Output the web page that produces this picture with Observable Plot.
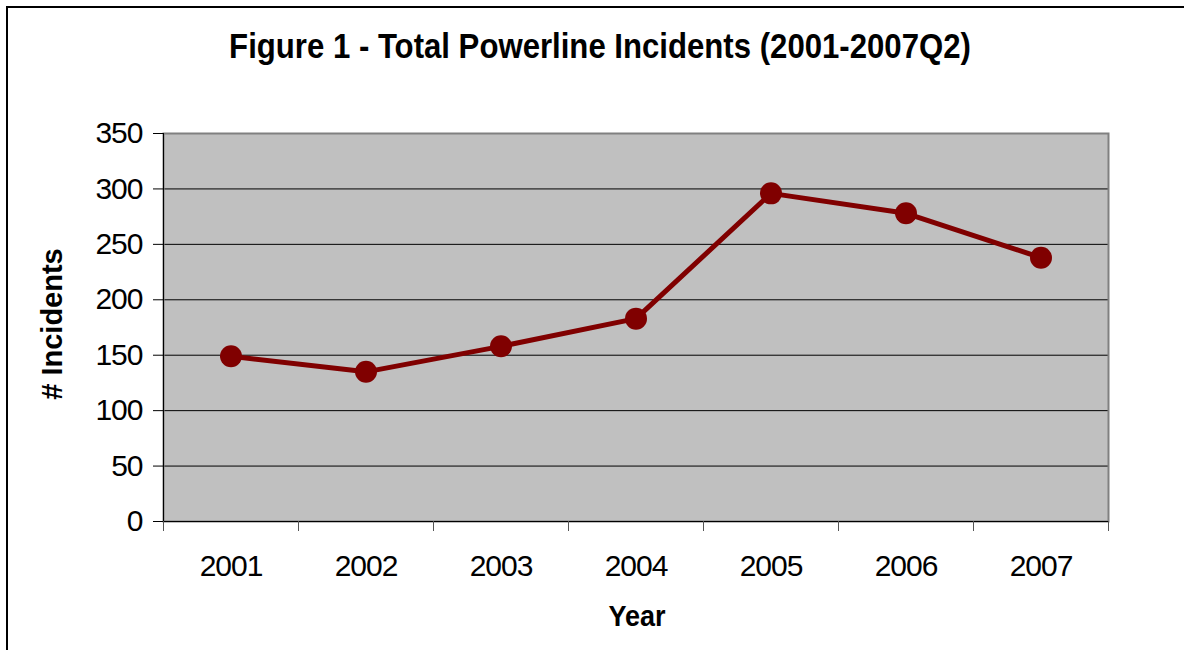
<!DOCTYPE html>
<html><head><meta charset="utf-8">
<script src="https://cdn.jsdelivr.net/npm/d3@7"></script>
<script src="https://cdn.jsdelivr.net/npm/@observablehq/plot@0.6"></script>
<style>
html,body{margin:0;padding:0;background:#fff;overflow:hidden;width:1184px;height:650px;}
#wrap{position:relative;width:1184px;height:650px;overflow:hidden;font-family:"Liberation Sans",Arial,sans-serif;}
#border{position:absolute;left:6px;top:6px;width:2000px;height:2000px;border-top:2px solid #000;border-left:2px solid #000;}
.lbl{position:absolute;font-weight:bold;line-height:1;white-space:nowrap;color:#000;}
#chart{position:absolute;left:0;top:0;}
#title{font-size:35px;left:600px;top:28px;}
#ylab{font-size:29px;left:52px;top:324px;transform:translate(-50%,-50%) rotate(-90deg);}
#xlab{font-size:30px;left:637px;top:601px;transform:translateX(-50%) scaleX(0.9);}
</style></head><body>
<div id="wrap">
<div id="border"></div>
<div id="chart"></div>
<div id="title" class="lbl"></div>
<div id="ylab" class="lbl"></div>
<div id="xlab" class="lbl"></div>
</div>
<script>
const titleText = "Figure 1 - Total Powerline Incidents (2001-2007Q2)";
const xLabel = "Year";
const yLabel = "# Incidents";
const years = [2001, 2002, 2003, 2004, 2005, 2006, 2007];
const incidents = [149, 135, 158, 183, 296, 278, 238];
const yTicks = [0, 50, 100, 150, 200, 250, 300, 350];

const data = years.map((year, i) => ({year, value: incidents[i]}));
const xDomain = [years[0] - 0.5, years[years.length - 1] + 0.5];
const boundaries = [...years.map(y => y - 0.5), years[years.length - 1] + 0.5];
const gridVals = yTicks.slice(1, -1);

const plot = Plot.plot({
  width: 1184, height: 650,
  marginLeft: 163, marginRight: 76, marginTop: 133, marginBottom: 129,
  style: {fontFamily: "Liberation Sans, Arial, sans-serif", fontSize: "30px", background: "transparent", color: "#000", letterSpacing: "-1px", overflow: "visible"},
  x: {domain: xDomain, axis: null},
  y: {domain: [yTicks[0], yTicks[yTicks.length - 1]], axis: null},
  marks: [
    Plot.frame({fill: "#c0c0c0", stroke: null}),
    Plot.gridY({ticks: gridVals, stroke: "#000", strokeOpacity: 1}),
    Plot.frame({stroke: "#808080", strokeWidth: 2}),
    Plot.ruleX([xDomain[0]], {stroke: "#000"}),
    Plot.ruleY([yTicks[0]], {stroke: "#000"}),
    Plot.axisY({ticks: yTicks, tickSize: 10, tickPadding: 11, stroke: "#000", fill: "#000", fontSize: 30, label: null, tickFormat: d => String(d)}),
    Plot.axisX({ticks: boundaries, tickSize: 10, tickFormat: () => "", stroke: "#555", label: null}),
    Plot.axisX({ticks: years, tickSize: 0, tickPadding: 33, tickFormat: d => String(d), fill: "#000", fontSize: 30, label: null}),
    Plot.line(data, {x: "year", y: "value", stroke: "#800000", strokeWidth: 5}),
    Plot.dot(data, {x: "year", y: "value", r: 11, fill: "#800000", stroke: null})
  ]
});
document.getElementById("chart").appendChild(plot);

const t = document.getElementById("title");
t.textContent = titleText;
const w = t.offsetWidth;
const k = 742 / w;
t.style.transform = `translateX(-50%) scaleX(${k})`;
document.getElementById("ylab").textContent = yLabel;
document.getElementById("xlab").textContent = xLabel;
</script>
</body></html>
